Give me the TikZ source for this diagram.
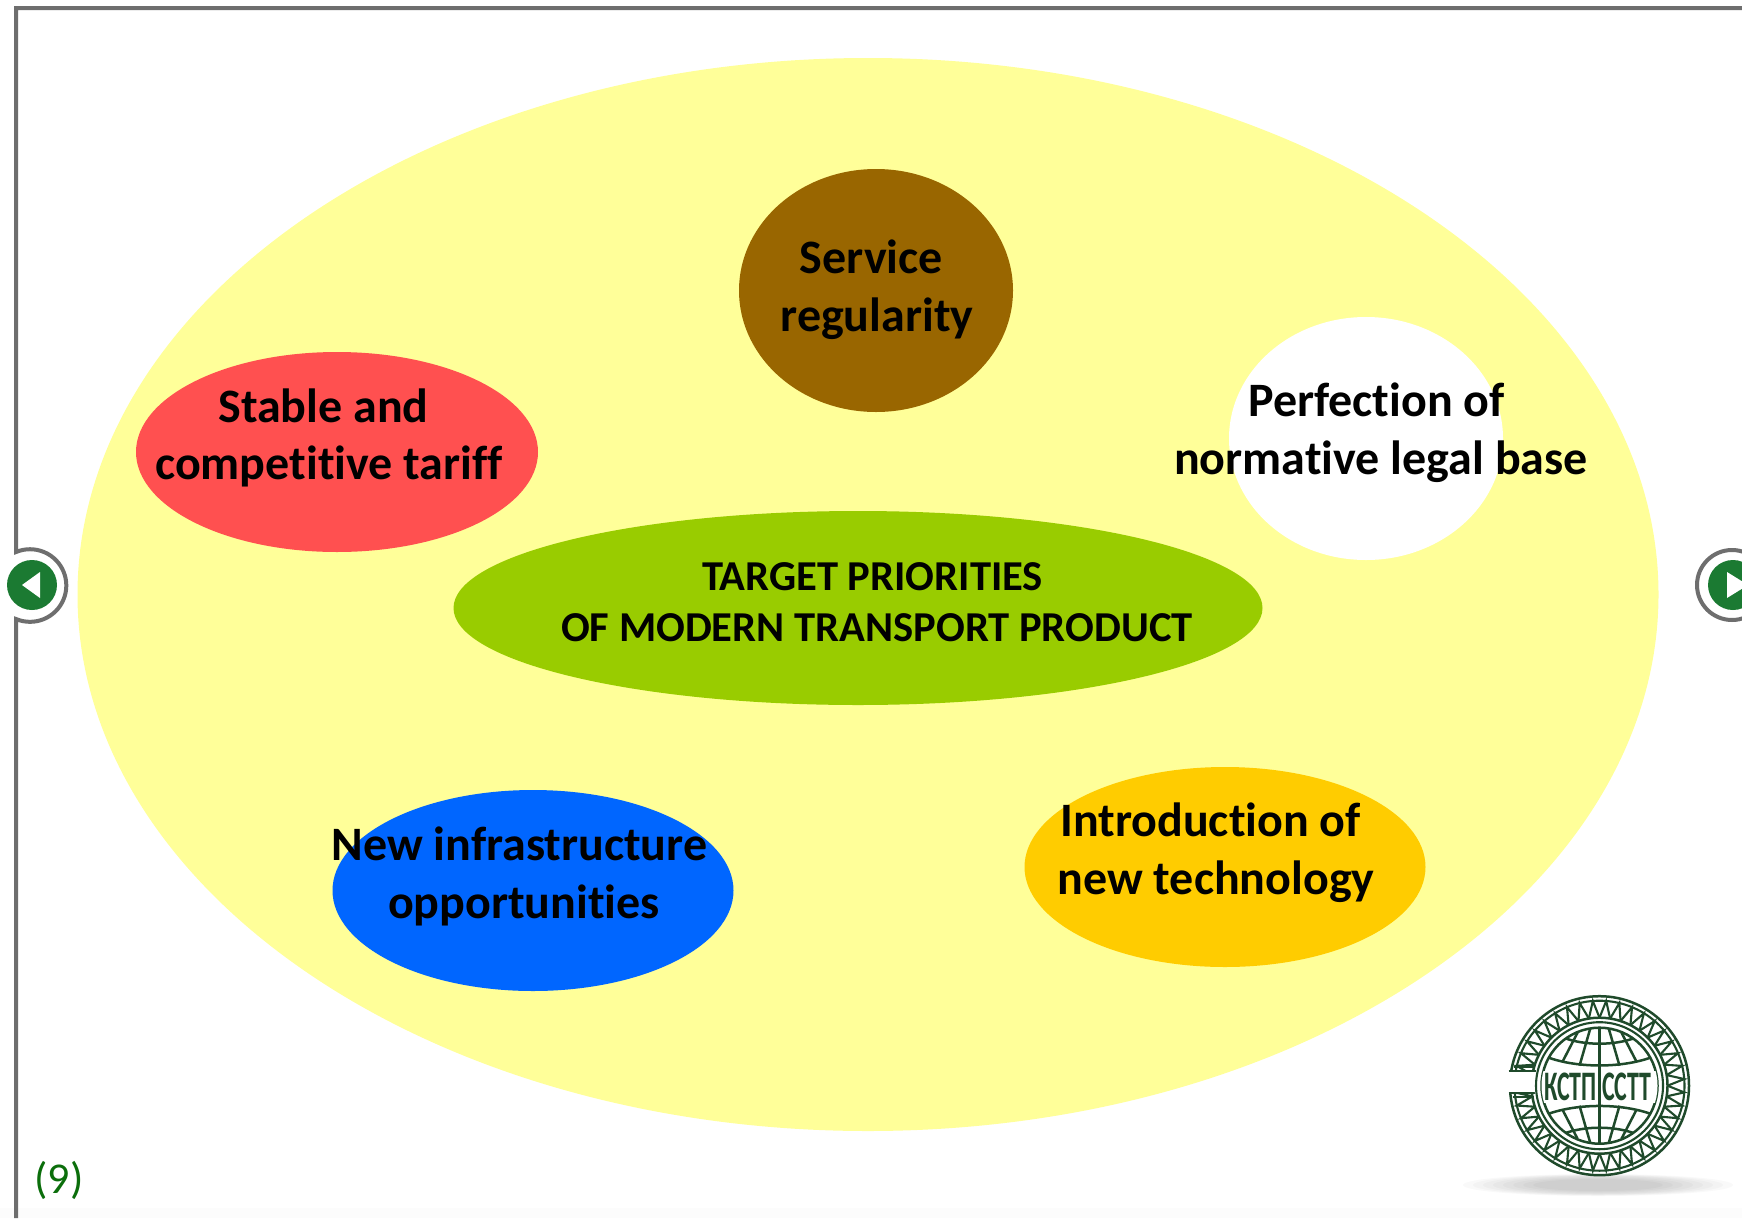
\documentclass[tikz,border=0pt]{standalone}
\usepackage{fontspec}
\setmainfont[Ligatures=NoCommon]{Carlito}
\definecolor{framegray}{HTML}{6E6E6E}
\definecolor{logogreen}{HTML}{1F4A2B}
\definecolor{btngreen}{HTML}{1B7A32}
\definecolor{bigyellow}{HTML}{FFFF99}
\definecolor{svcbrown}{HTML}{996600}
\definecolor{tariffred}{HTML}{FF5050}
\definecolor{centergreen}{HTML}{99CC00}
\definecolor{infrablue}{HTML}{0066FF}
\definecolor{techorange}{HTML}{FFCC00}
\definecolor{pagenum}{HTML}{0B6E0B}
\tikzset{
  blob/.style={shape=ellipse,inner sep=0pt,outer sep=0pt,draw=none},
  biglabel/.style={align=center,inner sep=0pt,font=\fontsize{48}{57.5}\selectfont\bfseries,text=black},
  midlabel/.style={align=center,inner sep=0pt,font=\fontsize{42.6}{51}\selectfont\bfseries,text=black},
  frameline/.style={draw=framegray,line width=4pt},
  logoline/.style={draw=logogreen,line width=2.5pt},
  logofine/.style={draw=logogreen,line width=2.1pt},
  logotext/.style={inner sep=0pt,text=logogreen,font=\fontsize{42}{42}\selectfont\bfseries,xscale=0.57},
}
\usetikzlibrary{shapes.geometric}
\begin{document}
\begin{tikzpicture}[x=1pt,y=-1pt]
\useasboundingbox (0,0) rectangle (1742,1218);
\fill[white] (0,0) rectangle (1742,1218);
\fill[black!1] (0,1208) rectangle (1742,1218);
% frame
\draw[frameline] (16,1218) -- (16,619) arc[start angle=-112.7,end angle=112.7,x radius=36.3,y radius=-36.3] -- (16,8) -- (1742,8);
\draw[frameline] (1732,585) circle[radius=35];
% buttons
\fill[btngreen] (32,585) circle[radius=25];
\fill[white] (40,572) -- (40,598) -- (22,585) -- cycle;
\fill[btngreen] (1733,585) circle[radius=25];
\fill[white] (1727,572) -- (1727,598) -- (1748,585) -- cycle;
% ellipses
\node[blob,fill=bigyellow,minimum width=1581pt,minimum height=1073pt] (outer) at (868,594.5) {};
\node[blob,fill=svcbrown,minimum width=274pt,minimum height=243pt] (service) at (876,290.5) {};
\node[blob,fill=tariffred,minimum width=402pt,minimum height=200pt] (tariff) at (337,452) {};
\node[blob,fill=white,minimum width=274pt,minimum height=243pt] (legal) at (1366,438.5) {};
\node[blob,fill=centergreen,minimum width=809pt,minimum height=194pt] (center) at (858,608) {};
\node[blob,fill=infrablue,minimum width=401pt,minimum height=201pt] (infra) at (533,890.5) {};
\node[blob,fill=techorange,minimum width=401pt,minimum height=200pt] (tech) at (1225,867) {};
% labels
\node[biglabel] (serviceT) at (877,289.5) {Service\hspace*{11pt}\\regularity};
\node[biglabel] (tariffT) at (329,438) {Stable and\hspace*{11pt}\\competitive tariff};
\node[biglabel] (legalT) at (1381,432.5) {Perfection of\hspace*{9pt}\\normative legal base};
\node[midlabel] (centerT) at (877,602.5) {TARGET PRIORITIES\hspace*{9pt}\\OF MODERN TRANSPORT PRODUCT};
\node[biglabel] (infraT) at (524,876.5) {New infrastructure\hspace*{9pt}\\opportunities};
\node[biglabel] (techT) at (1216,852.5) {Introduction of\hspace*{11pt}\\new technology};
\node[inner sep=0pt,text=pagenum,font=\fontsize{44}{45}\selectfont] (pageno) at (59,1180) {(9)};
% logo shadow
\foreach \w/\h in {135/11,125/10.5,115/10,105/9.5,95/9,85/8,75/7,65/6}{
  \fill[black,opacity=0.022] (1598,1185) ellipse[x radius=\w,y radius=\h];
}
% logo
\begin{scope}[shift={(1599.5,1085.7)}]
  \draw[logoline] (0,0) circle[radius=89.5];
  \draw[logofine] (0,0) circle[radius=85];
  \draw[logoline] (0,0) circle[radius=68];
  \foreach \a in {0,9,...,351}{
    \draw[logofine] (\a:68) -- (\a+4.5:85) -- (\a+9:68);
  }
  \fill[white] (-95,-14) rectangle (-65,7);
  \draw[logoline] (-91,-14.5) -- (-64,-14.5);
  \draw[logoline] (-91,7.5) -- (-64,7.5);
  \draw[logofine] (-86,-18.5) -- (-66,-18.5);
  \draw[logofine] (-87,11.5) -- (-66,11.5);
  \fill[white] (0,0) circle[radius=65];
  \draw[logofine] (0,0) circle[radius=63.5];
  \draw[logoline] (0,0) circle[radius=58];
  \begin{scope}
    \clip (0,0) circle[radius=58];
    \draw[logoline] (0,-58) -- (0,58);
    \foreach \s in {-1,1}{
      \draw[logoline] (-56,\s*30) .. controls (-25,\s*17) and (25,\s*17) .. (56,\s*30);
      \draw[logoline] (-36,\s*48) .. controls (-15,\s*40) and (15,\s*40) .. (36,\s*48);
      \foreach \t in {-1,1}{
        \draw[logoline] (\t*37,\s*24) -- (\t*22,\s*53);
        \draw[logoline] (\t*20,\s*20) -- (\t*9,\s*58);
      }
    }
    \fill[white] (-60,-15) rectangle (-2.5,17);
    \fill[white] (2.5,-15) rectangle (60,17);
  \end{scope}
  \node[logotext] (logoL) at (-29,1) {КСТП};
  \node[logotext] (logoR) at (27,1) {ССТТ};
\end{scope}
\end{tikzpicture}
\end{document}
